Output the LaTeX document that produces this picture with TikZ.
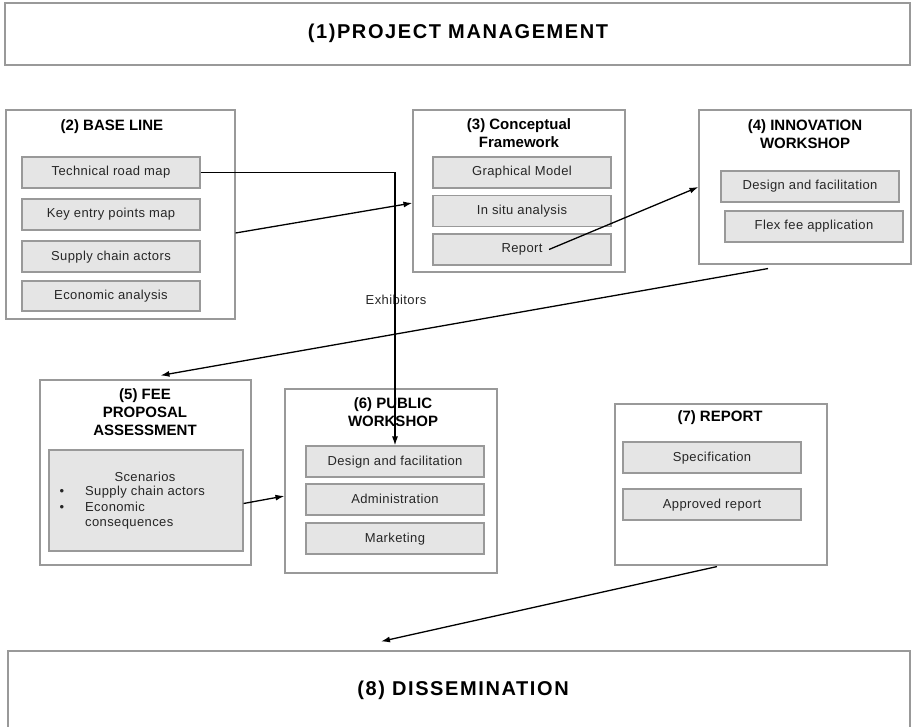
\documentclass[tikz,border=0pt]{standalone}
\usepackage{fontspec}
\setmainfont{Liberation Sans}
\usetikzlibrary{positioning,arrows.meta}

\begin{document}
\begin{tikzpicture}[x=1pt,y=-1pt]
	\tikzstyle{every node}=[font=\fontsize{13}{15}\selectfont\addfontfeature{LetterSpace=3},inner sep=0pt,text=black!85]
	\tikzstyle{frame}=[draw=black!40,line width=1.1pt]
	\tikzstyle{task}=[draw=black!40,fill=black!10,line width=1.1pt,minimum width=178pt,minimum height=31pt,text height=9.5pt,text depth=2.5pt]
	\tikzstyle{head}=[font=\fontsize{15}{18}\selectfont\bfseries,align=center,text=black]
	\tikzstyle{big}=[font=\fontsize{20}{24}\selectfont\bfseries\addfontfeature{LetterSpace=8},text=black]
	\tikzstyle{link}=[-{Latex[length=9pt,width=6pt]},line width=1.3pt]
	\clip (0,0) rectangle (912,727);
	% (1)
	\node[frame,minimum width=905pt,minimum height=62pt] (b1) at (457.5,34) {};
	\node[big] (t1) at (458,33) {(1)PROJECT MANAGEMENT};
	% (2)
	\node[frame,minimum width=229pt,minimum height=209pt] (b2) at (120.5,214.5) {};
	\node[head] (t2) at (112,127) {(2) BASE LINE};
	\node[task] (road) at (111,172.5) {Technical road map};
	\node[task] (entry) at (111,214.5) {Key entry points map};
	\node[task] (actors) at (111,256.5) {Supply chain actors};
	\node[task,minimum height=30pt] (econ) at (111,296) {Economic analysis};
	% (3)
	\node[frame,minimum width=212pt,minimum height=162pt] (b3) at (519,191) {};
	\node[head] (t3) at (519,133) {(3) Conceptual\\Framework};
	\node[task] (graph) at (522,172.5) {Graphical Model};
	\node[task] (situ) at (522,211) {In situ analysis};
	\node[task] (report) at (522,249.5) {Report};
	% (4)
	\node[frame,minimum width=212pt,minimum height=154pt] (b4) at (805,187) {};
	\node[head] (t4) at (805,134) {(4) INNOVATION\\WORKSHOP};
	\node[task] (design4) at (810,186.5) {Design and facilitation};
	\node[task] (flex) at (814,226.5) {Flex fee application};
	% (5)
	\node[frame,minimum width=211pt,minimum height=185pt] (b5) at (145.5,472.5) {};
	\node[head] (t5) at (145,412) {(5) FEE\\PROPOSAL\\ASSESSMENT};
	\node[task,minimum width=194pt,minimum height=101pt] (scen) at (146,500.5) {};
	\node (scentxt) at (145,477) {Scenarios};
	\node (dot1) at (62,492) {\textbullet};
	\node (dot2) at (62,508) {\textbullet};
	\node[anchor=west] (sca) at (85,492) {Supply chain actors};
	\node[anchor=north west,align=left] (cons) at (85,502) {Economic\\consequences};
	% (6)
	\node[frame,minimum width=212pt,minimum height=184pt] (b6) at (391,481) {};
	\node[head] (t6) at (393,412.5) {(6) PUBLIC\\WORKSHOP};
	\node[task] (design6) at (395,461.5) {Design and facilitation};
	\node[task] (admin) at (395,499.5) {Administration};
	\node[task] (mkt) at (395,538.5) {Marketing};
	% (7)
	\node[frame,minimum width=212pt,minimum height=161pt] (b7) at (721,484.5) {};
	\node[head] (t7) at (720,418) {(7) REPORT};
	\node[task] (spec) at (712,457.5) {Specification};
	\node[task] (appr) at (712,504.5) {Approved report};
	% (8)
	\node[frame,minimum width=902pt,minimum height=95pt] (b8) at (459,698.5) {};
	\node[big] (t8) at (463,690) {(8) DISSEMINATION};
	% links
	\node (exh) at (396,300) {Exhibitors};
	\draw[link] (road.east) -| (design6.north);
	\draw[link] ([yshift=-18.5pt]b2.east) -- ([yshift=-12pt]b3.west);
	\draw[link] ([xshift=27pt]report.center) -- (b4.west);
	\draw[link] ([xshift=-37pt,yshift=-4pt]b4.south) -- ([xshift=15pt,yshift=4pt]b5.north);
	\draw[link] ([yshift=-3pt]scen.east) -- ([yshift=-15pt]b6.west);
	\draw[link] ([xshift=-4pt,yshift=-1pt]b7.south) -- ([xshift=-78pt,yshift=9pt]b8.north);
\end{tikzpicture}
\end{document}
